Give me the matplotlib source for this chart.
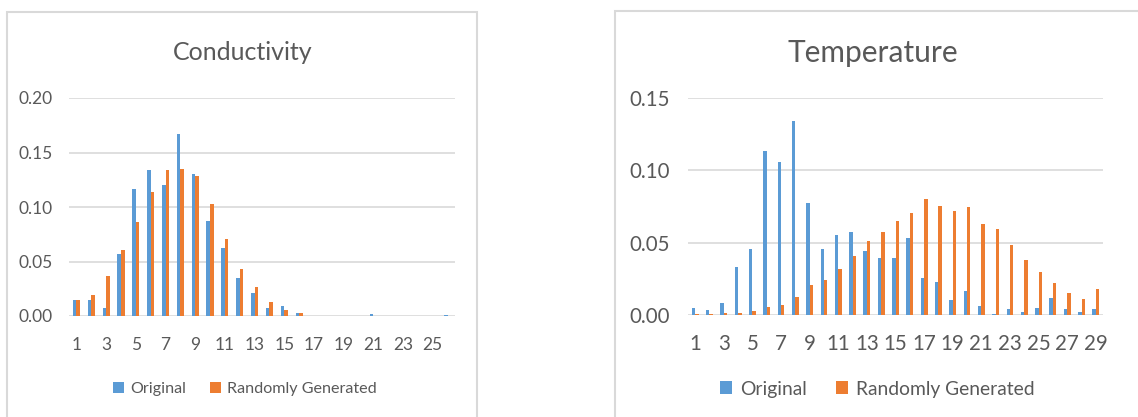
import matplotlib
matplotlib.use("Agg")
import matplotlib.pyplot as plt
from matplotlib.patches import Rectangle
import numpy as np

# Data
cond_original = [0.015, 0.015, 0.0073, 0.0567, 0.1165, 0.1335, 0.120, 0.167, 0.1305, 0.087,
                 0.062, 0.0345, 0.021, 0.0073, 0.0095, 0.0024, 0, 0, 0, 0,
                 0.002, 0, 0, 0, 0, 0.001]
cond_random = [0.015, 0.0195, 0.0366, 0.061, 0.086, 0.114, 0.1335, 0.1345, 0.1287, 0.1024,
               0.071, 0.0427, 0.0265, 0.0128, 0.0055, 0.0024, 0, 0, 0, 0,
               0, 0, 0, 0, 0, 0]

temp_original = [0.0046, 0.0037, 0.0085, 0.0334, 0.0458, 0.113, 0.1054, 0.134, 0.0775, 0.0458,
                 0.055, 0.0573, 0.0442, 0.0396, 0.0396, 0.0534, 0.0255, 0.0225, 0.0101, 0.0163,
                 0.0064, 0.0009, 0.0039, 0.0023, 0.0046, 0.0117, 0.0039, 0.0023, 0.0039]
temp_random = [0.0009, 0.0009, 0.0014, 0.0016, 0.003, 0.0055, 0.0071, 0.0127, 0.021, 0.0242,
               0.032, 0.0405, 0.0513, 0.0575, 0.065, 0.0706, 0.0798, 0.0752, 0.072, 0.0743,
               0.0626, 0.0596, 0.0481, 0.038, 0.0294, 0.0223, 0.015, 0.0108, 0.0177]

series_names = ["Original", "Randomly Generated"]

BLUE = "#5B9BD5"
ORANGE = "#ED7D31"
TEXT = "#595959"
GRID = "#D9D9D9"

plt.rcParams['font.family'] = ['Lato', 'DejaVu Sans']

W, H = 1138, 417
fig = plt.figure(figsize=(W / 100, H / 100), dpi=100)


def px_axes(x0, x1, ytop, ybot):
    return fig.add_axes([x0 / W, (H - ybot) / H, (x1 - x0) / W, (ybot - ytop) / H])


def draw_chart(ax, title, orig, rand, ymax, title_x, legend_x,
               tick_fs, title_fs, legend_fs, ypad, xpad):
    n = len(orig)
    x = np.arange(1, n + 1)
    w = 0.239
    b1 = ax.bar(x - w / 2, orig, width=w, color=BLUE, label=series_names[0], zorder=3)
    b2 = ax.bar(x + w / 2, rand, width=w, color=ORANGE, label=series_names[1], zorder=3)
    ax.set_xlim(0.5, n + 0.5)
    ax.set_ylim(0, ymax)
    yt = np.arange(0, ymax + 0.001, 0.05)
    ax.set_yticks(yt)
    ax.set_yticklabels([f"{v:.2f}" for v in yt])
    ax.set_xticks(x[::2])
    ax.set_xticklabels([str(v) for v in x[::2]])
    for s in ax.spines.values():
        s.set_visible(False)
    ax.tick_params(length=0, colors=TEXT, labelsize=tick_fs)
    ax.tick_params(axis='y', pad=ypad)
    ax.tick_params(axis='x', pad=xpad)
    ax.grid(axis='y', color=GRID, linewidth=1.2, zorder=0)
    ax.set_axisbelow(True)
    fig.text(title_x / W, (H - 53) / H, title, ha='center', va='center',
             fontsize=title_fs, color=TEXT)
    fig.legend(handles=[b1, b2], loc='center', bbox_to_anchor=(legend_x / W, (H - 389) / H),
               ncol=2, frameon=False, fontsize=legend_fs, labelcolor=TEXT,
               handlelength=0.65, handleheight=0.65, handletextpad=0.4,
               columnspacing=1.5)


# chart borders
fig.patches.append(Rectangle((7 / W, -0.02), (477 - 7) / W, (H - 12) / H + 0.02,
                             transform=fig.transFigure, fill=False,
                             edgecolor=GRID, linewidth=1.5))
fig.patches.append(Rectangle((615 / W, -0.02), 0.5, (H - 11) / H + 0.02,
                             transform=fig.transFigure, fill=False,
                             edgecolor=GRID, linewidth=1.5))

ax1 = px_axes(69, 455, 98, 316)
draw_chart(ax1, "Conductivity", cond_original, cond_random, 0.20, 243, 245,
           tick_fs=12.5, title_fs=18, legend_fs=11.6, ypad=12, xpad=15)

ax2 = px_axes(688, 1103, 97.7, 315)
draw_chart(ax2, "Temperature", temp_original, temp_random, 0.15, 873, 877,
           tick_fs=14.8, title_fs=21.5, legend_fs=13.9, ypad=13, xpad=14)

fig.savefig("out.png", dpi=100)
